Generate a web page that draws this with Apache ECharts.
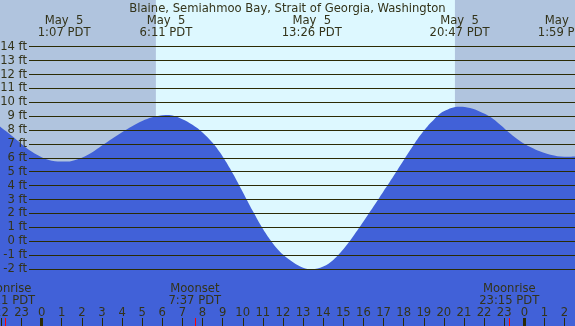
<!DOCTYPE html>
<html>
<head>
<meta charset="utf-8">
<script src="https://cdn.jsdelivr.net/npm/echarts@6/dist/echarts.min.js"></script>
<style>
  html, body { margin: 0; padding: 0; background: #ddf8ff; }
  #chart { width: 575px; height: 326px; }
</style>
</head>
<body>
<div id="chart"></div>
<script>
var hours  = [-2.07, -1.5, -1, -0.5, 0, 0.5, 1.117, 1.5, 2, 2.5, 3, 3.5, 4, 4.5, 5, 5.5, 6.183, 6.5, 7, 7.5, 8, 8.5, 9, 9.5, 10, 10.5, 11, 11.5, 12, 12.5, 13, 13.433,
              14, 14.5, 15, 15.5, 16, 16.5, 17, 17.5, 18, 18.5, 19, 19.5, 20, 20.783, 21.3, 21.8, 22.3, 22.8, 23.3, 23.8, 24.3, 24.8, 25.3, 25.983, 26.52];
var tideFt = [8.25, 7.6, 7.0, 6.45, 6.05, 5.8, 5.73, 5.78, 6.0, 6.38, 6.88, 7.38, 7.85, 8.28, 8.65, 8.92, 9.09, 9.05, 8.78, 8.38, 7.83, 7.08, 6.1, 4.9, 3.55, 2.17, 0.89, -0.16, -0.96, -1.51, -1.91, -2.02,
              -1.82, -1.35, -0.58, 0.38, 1.42, 2.5, 3.6, 4.7, 5.83, 6.95, 7.95, 8.75, 9.35, 9.68, 9.58, 9.32, 8.95, 8.38, 7.75, 7.2, 6.78, 6.45, 6.22, 6.08, 6.1];

// high / low tide events shown at the top
var tideTimes  = [1.117, 6.183, 13.433, 20.783, 25.983];
var tideLabels = ['May  5\n1:07 PDT', 'May  5\n6:11 PDT', 'May  5\n13:26 PDT', 'May  5\n20:47 PDT', 'May  6\n1:59 PDT'];

// moon events shown at the bottom
var moonTimes  = [-1.817, 7.617, 23.25];
var moonLabels = ['Moonrise\n22:11 PDT', 'Moonset\n7:37 PDT', 'Moonrise\n23:15 PDT'];

var hourTicks = [-2, -1, 0, 1, 2, 3, 4, 5, 6, 7, 8, 9, 10, 11, 12, 13, 14, 15, 16, 17, 18, 19, 20, 21, 22, 23, 24, 25, 26];
var midnights = [0, 24];
var sunrise = 5.68, sunset = 20.55;

var X_MIN = -2.07, X_MAX = 26.52;

var FONT = 'DejaVu Sans';
var FSIZE = 11.6;
var TEXT = '#33331a';
var LINE = '#2b2b05';
var DAY = '#ddf8ff';
var NIGHT = '#b0c4de';
var WATER = '#4161d8';

// box of the ft scale (14 ft at the top, -2 ft at the bottom)
var ftTop = 46.7, ftBottom = 57;
var pxPerFt = (326 - ftTop - ftBottom) / 16;
var yMax = 14 + ftTop / pxPerFt;
var yMin = -2 - ftBottom / pxPerFt;

function pick(list, labels) {
    return function (v) {
        var i = list.indexOf(v);
        return i < 0 ? '' : labels[i];
    };
}

var tidePoints = hours.map(function (h, i) { return [h, tideFt[i]]; });

var chartDom = document.getElementById('chart');
var myChart = echarts.init(chartDom, null, {renderer: 'canvas'});

var labelStyle = {color: TEXT, fontFamily: FONT, fontSize: FSIZE};
var noLine = {show: false, onZero: false};

var option = {
    backgroundColor: DAY,
    animation: false,
    title: {
        text: 'Blaine, Semiahmoo Bay, Strait of Georgia, Washington',
        left: 'center',
        top: 3,
        padding: 0,
        textStyle: {color: TEXT, fontFamily: FONT, fontSize: FSIZE, fontWeight: 'normal'}
    },
    grid: [
        {left: 0, right: 0, top: 0, bottom: 0, outerBoundsMode: 'none'},
        {left: 29, right: 0, top: ftTop, bottom: ftBottom, outerBoundsMode: 'none'}
    ],
    xAxis: [
        {
            // hour ticks + labels, also carries the tide series
            gridIndex: 0, type: 'value', min: X_MIN, max: X_MAX, position: 'bottom', z: 5,
            axisLine: noLine,
            splitLine: {show: false},
            axisTick: {show: true, inside: true, length: 8, customValues: hourTicks, lineStyle: {color: LINE, width: 1}},
            axisLabel: Object.assign({
                inside: true, margin: 7, customValues: hourTicks,
                formatter: function (v) { return String((v + 24) % 24); }
            }, labelStyle)
        },
        {
            // midnight marks
            gridIndex: 0, type: 'value', min: X_MIN, max: X_MAX, position: 'bottom', z: 5,
            axisLine: noLine,
            splitLine: {show: false},
            axisTick: {show: true, inside: true, length: 8, customValues: midnights, lineStyle: {color: LINE, width: 3}},
            axisLabel: {show: false}
        },
        {
            // moonrise / moonset
            gridIndex: 0, type: 'value', min: X_MIN, max: X_MAX, position: 'bottom', z: 5,
            axisLine: noLine,
            splitLine: {show: false},
            axisTick: {show: true, inside: true, length: 8, customValues: moonTimes, lineStyle: {color: '#ff0000', width: 1}},
            axisLabel: Object.assign({
                inside: true, margin: 19, lineHeight: 12, customValues: moonTimes,
                formatter: pick(moonTimes, moonLabels)
            }, labelStyle)
        },
        {
            // tide times along the top
            gridIndex: 0, type: 'value', min: X_MIN, max: X_MAX, position: 'top', z: 5,
            axisLine: noLine,
            splitLine: {show: false},
            axisTick: {show: false},
            axisLabel: Object.assign({
                inside: true, margin: 15, lineHeight: 12, customValues: tideTimes,
                formatter: pick(tideTimes, tideLabels)
            }, labelStyle)
        },
        {gridIndex: 1, type: 'value', min: 0, max: 1, show: false}
    ],
    yAxis: [
        {gridIndex: 0, type: 'value', min: yMin, max: yMax, show: false},
        {
            gridIndex: 1, type: 'value', min: -2, max: 14, interval: 1, z: 5,
            axisLine: noLine,
            axisTick: {show: false},
            splitLine: {show: true, lineStyle: {color: LINE, width: 1}},
            axisLabel: Object.assign({margin: 2, formatter: '{value} ft'}, labelStyle)
        }
    ],
    series: [
        {
            // night shading
            type: 'line', xAxisIndex: 0, yAxisIndex: 0, data: [], z: 1,
            markArea: {
                silent: true,
                itemStyle: {color: NIGHT},
                data: [
                    [{xAxis: X_MIN}, {xAxis: sunrise}],
                    [{xAxis: sunset}, {xAxis: X_MAX}]
                ]
            }
        },
        {
            type: 'line', xAxisIndex: 0, yAxisIndex: 0, z: 2,
            data: tidePoints,
            smooth: 0.4,
            symbol: 'none',
            lineStyle: {width: 0},
            areaStyle: {color: WATER, opacity: 1, origin: 'start'}
        }
    ]
};

option && myChart.setOption(option);
</script>
</body>
</html>
